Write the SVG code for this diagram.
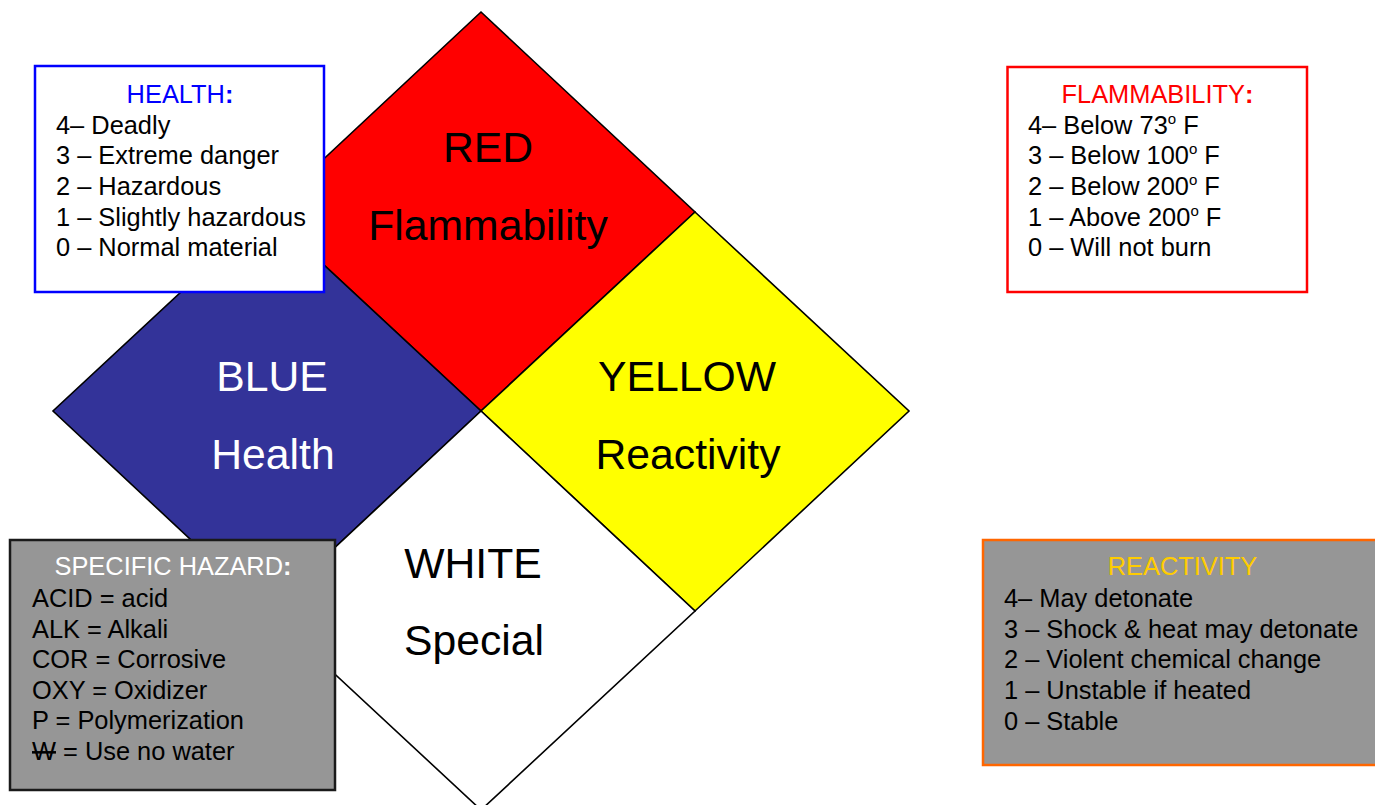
<svg xmlns="http://www.w3.org/2000/svg" width="1375" height="805" viewBox="0 0 1375 805">
<style>
.dia{stroke:#000;stroke-width:1.6;stroke-linejoin:miter}
.big{font-family:"Liberation Sans",Arial,sans-serif;font-size:42.7px;text-anchor:middle}
.t{font-family:"Liberation Sans",Arial,sans-serif;font-size:25.4px;fill:#000}
.ttl{font-family:"Liberation Sans",Arial,sans-serif;font-size:25.4px;text-anchor:middle}
.sup{font-size:15px}
</style>
<rect width="1375" height="805" fill="#fff"/>
<g id="diamond-red">
<polygon class="dia" points="481,12 695,212 481,411 267,212" fill="#FF0000"/>
<text class="big" x="488" y="162" fill="#000">RED</text>
<text class="big" x="488" y="240" fill="#000">Flammability</text>
</g>
<g id="diamond-blue">
<polygon class="dia" points="267,212 481,411 267,611 53,411" fill="#333399"/>
<text class="big" x="272" y="391" fill="#fff">BLUE</text>
<text class="big" x="273" y="469" fill="#fff">Health</text>
</g>
<g id="diamond-yellow">
<polygon class="dia" points="695,212 909,411 695,611 481,411" fill="#FFFF00"/>
<text class="big" x="687" y="391" fill="#000">YELLOW</text>
<text class="big" x="688" y="469" fill="#000">Reactivity</text>
</g>
<g id="diamond-white">
<polygon class="dia" points="481,411 695,611 481,810 267,611" fill="#fff"/>
<text class="big" x="473" y="578" fill="#000">WHITE</text>
<text class="big" x="474" y="655" fill="#000">Special</text>
</g>
<g id="health-box">
<rect x="35" y="66" width="289" height="226" fill="#fff" stroke="#0000FF" stroke-width="2.5"/>
<text class="ttl" x="180" y="103" fill="#0000FF">HEALTH<tspan font-weight="bold">:</tspan></text>
<text class="t" x="56" y="133.5">4– Deadly</text>
<text class="t" x="56" y="164.2">3 – Extreme danger</text>
<text class="t" x="56" y="194.9">2 – Hazardous</text>
<text class="t" x="56" y="225.6">1 – Slightly hazardous</text>
<text class="t" x="56" y="256.3">0 – Normal material</text>
</g>
<g id="flammability-box">
<rect x="1007.5" y="67" width="299.5" height="225" fill="#fff" stroke="#FF0000" stroke-width="2.5"/>
<text class="ttl" x="1157.5" y="103" fill="#FF0000">FLAMMABILITY<tspan font-weight="bold">:</tspan></text>
<text class="t" x="1028" y="133.5">4– Below 73<tspan class="sup" dy="-10">o</tspan><tspan dy="10"> F</tspan></text>
<text class="t" x="1028" y="164.2">3 – Below 100<tspan class="sup" dy="-10">o</tspan><tspan dy="10"> F</tspan></text>
<text class="t" x="1028" y="194.9">2 – Below 200<tspan class="sup" dy="-10">o</tspan><tspan dy="10"> F</tspan></text>
<text class="t" x="1028" y="225.6">1 – Above 200<tspan class="sup" dy="-10">o</tspan><tspan dy="10"> F</tspan></text>
<text class="t" x="1028" y="256.3">0 – Will not burn</text>
</g>
<g id="specific-hazard-box">
<rect x="10" y="540" width="325" height="250" fill="#969696" stroke="#1a1a1a" stroke-width="2.5"/>
<text class="ttl" x="173" y="575" fill="#fff">SPECIFIC HAZARD<tspan font-weight="bold">:</tspan></text>
<text class="t" x="32" y="607">ACID = acid</text>
<text class="t" x="32" y="637.6">ALK = Alkali</text>
<text class="t" x="32" y="668.2">COR = Corrosive</text>
<text class="t" x="32" y="698.8">OXY = Oxidizer</text>
<text class="t" x="32" y="729.4">P = Polymerization</text>
<text class="t" x="32" y="760"><tspan text-decoration="line-through">W</tspan> = Use no water</text>
</g>
<g id="reactivity-box">
<rect x="983" y="540" width="399" height="225" fill="#969696" stroke="#FF6600" stroke-width="2.5"/>
<text class="ttl" x="1182.5" y="575" fill="#FFCC00">REACTIVITY</text>
<text class="t" x="1004" y="607">4– May detonate</text>
<text class="t" x="1004" y="637.7">3 – Shock &amp; heat may detonate</text>
<text class="t" x="1004" y="668.4">2 – Violent chemical change</text>
<text class="t" x="1004" y="699">1 – Unstable if heated</text>
<text class="t" x="1004" y="729.7">0 – Stable</text>
</g>
<g id="connectors"/>
</svg>
